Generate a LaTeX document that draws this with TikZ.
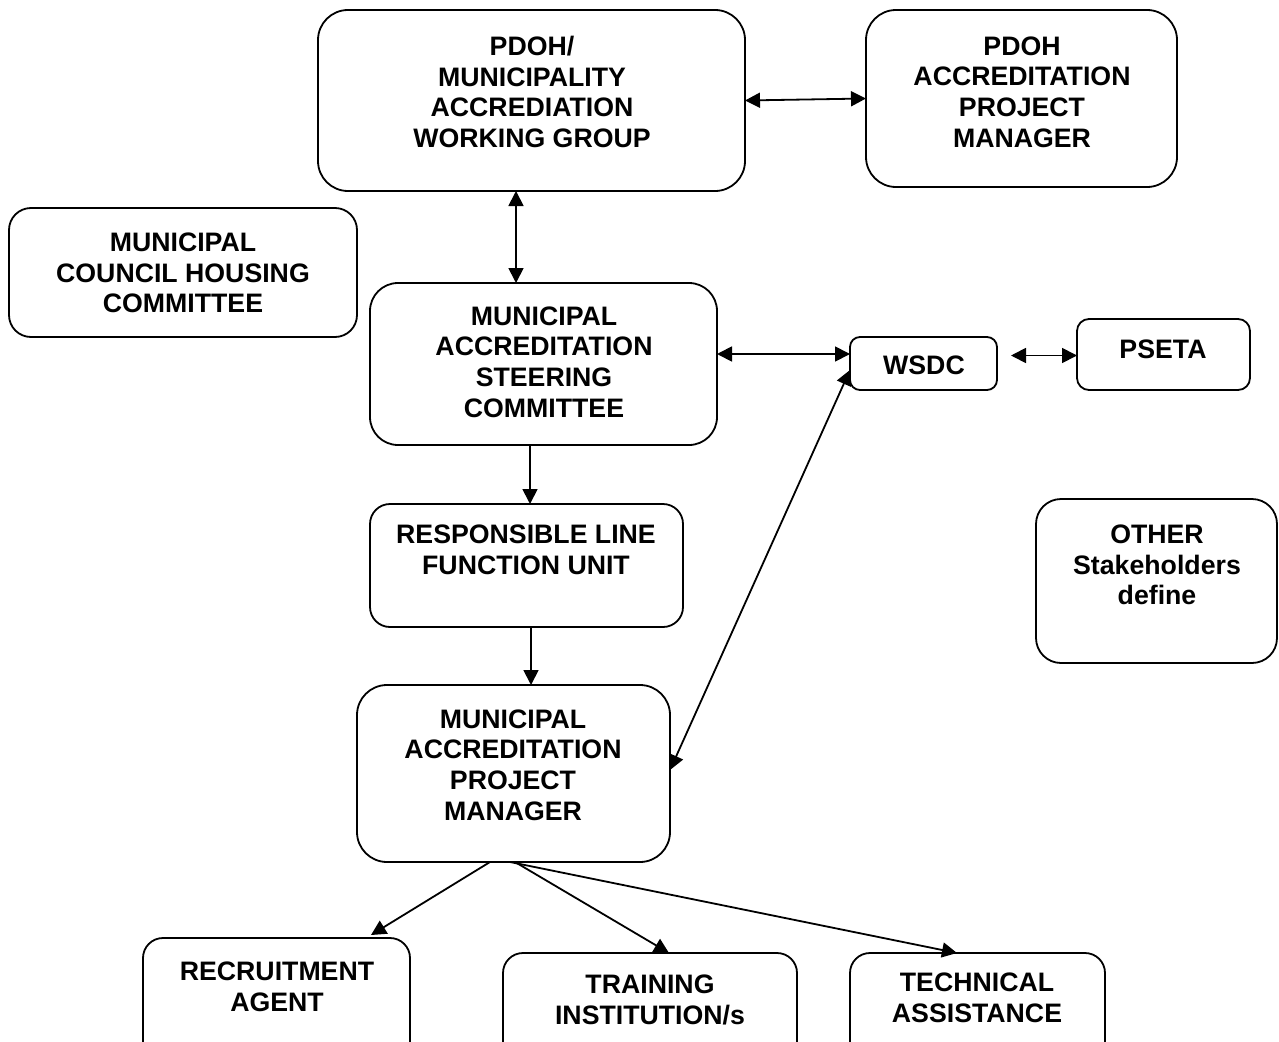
\documentclass[tikz,border=0pt]{standalone}
\usepackage{fontspec}
\setmainfont{Liberation Sans}
\usetikzlibrary{arrows.meta}
\begin{document}
\begin{tikzpicture}[x=1pt,y=-1pt,
  box/.style={draw, line width=1.8pt, rounded corners=#1, inner sep=0pt, outer sep=0pt},
  box/.default=20pt,
  txt/.style={font=\fontsize{26.7}{30.7}\selectfont\bfseries, align=center, inner sep=0pt},
  tip/.style={},
  dbl/.style={line width=1.8pt, {Triangle[length=15pt,width=15pt]}-{Triangle[length=15pt,width=15pt]}},
  sgl/.style={line width=1.8pt, -{Triangle[length=15pt,width=15pt]}}]
\useasboundingbox (0,0) rectangle (1279,1041);
\clip (0,0) rectangle (1279,1041);
\fill[white] (0,0) rectangle (1279,1041);
% boxes
\node[box=30pt, minimum width=427pt, minimum height=181pt] (b1) at (531.5,100.5) {};
\node[box=30pt, minimum width=311pt, minimum height=177pt] (b2) at (1021.5,98.5) {};
\node[box=22pt, minimum width=348pt, minimum height=129pt] (b3) at (183,272.5) {};
\node[box=28pt, minimum width=347pt, minimum height=162pt] (b4) at (543.5,364) {};
\node[box=10pt, minimum width=147pt, minimum height=53pt] (b5) at (923.5,363.5) {};
\node[box=12pt, minimum width=173pt, minimum height=71pt] (b6) at (1163.5,354.5) {};
\node[box=25pt, minimum width=241pt, minimum height=164pt] (b7) at (1156.5,581) {};
\node[box=20pt, minimum width=313pt, minimum height=123pt] (b8) at (526.5,565.5) {};
\node[box=30pt, minimum width=313pt, minimum height=177pt] (b9) at (513.5,773.5) {};
\node[box=20pt, minimum width=267pt, minimum height=137pt] (b10) at (276.5,1006.5) {};
\node[box=20pt, minimum width=294pt, minimum height=122pt] (b11) at (650,1014) {};
\node[box=20pt, minimum width=255pt, minimum height=122pt] (b12) at (977.5,1014) {};
% texts
\node[txt] (t1) at (532,92) {PDOH/\\MUNICIPALITY\\ACCREDIATION\\WORKING GROUP};
\node[txt] (t2) at (1022,92) {PDOH\\ACCREDITATION\\PROJECT\\MANAGER};
\node[txt] (t3) at (183,273) {MUNICIPAL\\COUNCIL HOUSING\\COMMITTEE};
\node[txt] (t4) at (544,362) {MUNICIPAL\\ACCREDITATION\\STEERING\\COMMITTEE};
\node[txt] (t5) at (924,365) {WSDC};
\node[txt] (t6) at (1163,349) {PSETA};
\node[txt] (t7) at (1157,565) {OTHER\\Stakeholders\\define};
\node[txt] (t8) at (526,550) {RESPONSIBLE LINE\\FUNCTION UNIT};
\node[txt] (t9) at (513,765) {MUNICIPAL\\ACCREDITATION\\PROJECT\\MANAGER};
\node[txt] (t10) at (277,987) {RECRUITMENT\\AGENT};
\node[txt] (t11) at (650,1000) {TRAINING\\INSTITUTION/s};
\node[txt] (t12) at (977,998) {TECHNICAL\\ASSISTANCE};
% connectors
\draw[dbl] (b1.east) -- (b2.west);
\draw[dbl] ([xshift=-15.5pt]b1.south) -- ([xshift=-15.5pt]b1.south |- b4.north);
\draw[dbl] ([yshift=10pt]b4.east) -- ([yshift=10pt]b4.east -| b5.west);
\draw[dbl] ([xshift=14pt,yshift=8pt]b5.east) -- ([yshift=8pt]b5.east -| b6.west);
\draw[sgl] ([xshift=-13.5pt]b4.south) -- ([xshift=-13.5pt]b4.south |- b8.north);
\draw[sgl] ([xshift=4.5pt]b8.south) -- ([xshift=4.5pt]b8.south |- b9.north);
\draw[dbl] ([yshift=3.5pt]b9.east) -- ([yshift=-6.5pt]b5.west);
\draw[sgl] ([xshift=-23.5pt]b9.south) -- ([xshift=94.5pt,yshift=3pt]b10.north);
\draw[sgl] ([xshift=1.5pt]b9.south) -- ([xshift=19pt]b11.north);
\draw[sgl] ([xshift=-3.5pt]b9.south) -- ([xshift=-20.5pt]b12.north);
\end{tikzpicture}
\end{document}
